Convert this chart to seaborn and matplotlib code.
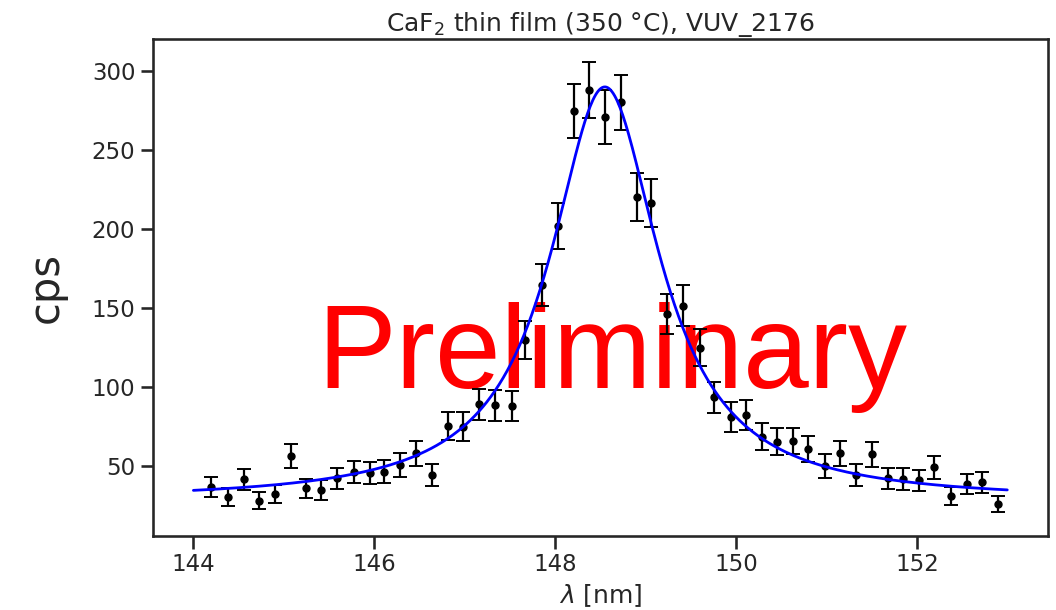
import numpy as np
import pandas as pd
import matplotlib
matplotlib.use("Agg")
import matplotlib.pyplot as plt
import seaborn as sns

# Measured spectrum: wavelength [nm], count rate [cps] and its uncertainty
wavelength = [144.20, 144.38, 144.56, 144.72, 144.90, 145.08, 145.25, 145.41, 145.59,
              145.78, 145.95, 146.11, 146.28, 146.46, 146.64, 146.81, 146.98, 147.16,
              147.34, 147.52, 147.67, 147.85, 148.03, 148.21, 148.37, 148.55, 148.73,
              148.91, 149.06, 149.24, 149.41, 149.60, 149.76, 149.94, 150.11, 150.29,
              150.45, 150.63, 150.80, 150.98, 151.15, 151.33, 151.50, 151.68, 151.85,
              152.02, 152.19, 152.38, 152.55, 152.72, 152.90]
cps = [36.9, 30.2, 41.6, 28.0, 32.3, 56.3, 35.9, 34.8, 42.2, 46.0, 45.4, 46.4, 50.6,
       58.0, 44.1, 75.5, 74.9, 89.0, 88.5, 88.0, 129.7, 164.6, 201.9, 274.9, 288.0,
       271.1, 280.4, 220.4, 216.6, 146.0, 151.5, 124.9, 93.5, 81.2, 82.1, 68.5, 65.4,
       65.8, 60.8, 50.0, 58.0, 44.3, 57.4, 42.2, 41.8, 41.1, 49.2, 31.2, 38.4, 39.7, 26.0]
cps_err = [6.3, 5.7, 6.7, 5.5, 5.9, 7.8, 6.2, 6.1, 6.8, 7.0, 7.0, 7.1, 7.4, 7.9, 6.9,
           9.0, 9.0, 9.8, 9.8, 9.8, 11.8, 13.3, 14.8, 17.2, 17.6, 17.1, 17.4, 15.4, 15.3,
           12.6, 12.8, 11.6, 10.0, 9.4, 9.4, 8.6, 8.4, 8.4, 8.1, 7.3, 7.9, 6.9, 7.9, 6.8,
           6.7, 6.7, 7.3, 5.8, 6.4, 6.5, 5.3]

# Lorentzian fit parameters
fit_center = 148.55
fit_amplitude = 262.0
fit_hwhm = 0.731
fit_background = 28.0
fit_range = (144.0, 153.0)

data = pd.DataFrame({"wavelength": wavelength, "cps": cps, "err": cps_err})
fit_x = np.linspace(*fit_range, 600)
fit = pd.DataFrame({
    "wavelength": fit_x,
    "cps": fit_background + fit_amplitude / (1 + ((fit_x - fit_center) / fit_hwhm) ** 2),
})

sns.set_theme(context="talk", style="ticks")
plt.rcParams["font.family"] = ["DejaVu Sans"]

fig = plt.figure(figsize=(10.56, 6.10), dpi=100)
ax = fig.add_axes([0.1446, 0.1213, 0.8478, 0.8147])

ax.text(0.513, 0.298, "Preliminary", transform=ax.transAxes, ha="center",
        va="baseline", color="red", fontsize=85, family="Liberation Sans", zorder=0.5)

ax.errorbar(data["wavelength"], data["cps"], yerr=data["err"], fmt="o", color="black",
            markersize=5, elinewidth=1.6, capsize=5, capthick=1.4, zorder=2)
sns.lineplot(data=fit, x="wavelength", y="cps", color="blue", linewidth=2.0,
             ax=ax, zorder=3)

ax.set_xlim(143.55, 153.45)
ax.set_ylim(5.7, 320.3)
ax.set_xticks([144, 146, 148, 150, 152])
ax.set_yticks([50, 100, 150, 200, 250, 300])
for side in ("top", "right"):
    ax.spines[side].set_visible(True)

ax.set_title(r"CaF$_2$ thin film (350 °C), VUV_2176", fontsize=18)
ax.set_xlabel(r"$\lambda$ [nm]", fontsize=18)
ax.set_ylabel("cps", fontsize=30, labelpad=18)

fig.savefig("out.png", dpi=100)
